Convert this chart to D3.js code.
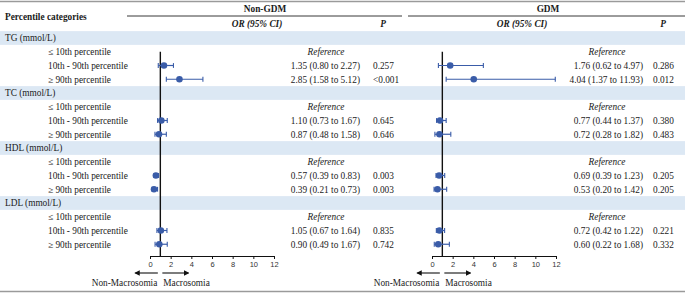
<!DOCTYPE html>
<html>
<head>
<meta charset="utf-8">
<script src="https://cdn.jsdelivr.net/npm/d3@7"></script>
<style>
  body { margin: 0; background: #fff; }
  svg text { font-family: "Liberation Serif", "Times New Roman", serif; fill: #1a1a1a; }
  .axis text { font-family: "Liberation Sans", Arial, sans-serif; font-size: 7.5px; fill: #333; }
</style>
</head>
<body>
<svg id="chart" width="685" height="293"></svg>
<script>
// ---- data ----
var groups = ["TG (mmol/L)", "TC (mmol/L)", "HDL (mmol/L)", "LDL (mmol/L)"];
var levels = ["\u2264 10th percentile", "10th - 90th percentile", "\u2265 90th percentile"];

// [OR, lower, upper] per group for 10th-90th and >=90th (<=10th is the reference)
var nonGdmOR = [
  [[1.35, 0.80, 2.27], [2.85, 1.58, 5.12]],
  [[1.10, 0.73, 1.67], [0.87, 0.48, 1.58]],
  [[0.57, 0.39, 0.83], [0.39, 0.21, 0.73]],
  [[1.05, 0.67, 1.64], [0.90, 0.49, 1.67]]
];
var nonGdmP = [["0.257", "<0.001"], ["0.645", "0.646"], ["0.003", "0.003"], ["0.835", "0.742"]];

var gdmOR = [
  [[1.76, 0.62, 4.97], [4.04, 1.37, 11.93]],
  [[0.77, 0.44, 1.37], [0.72, 0.28, 1.82]],
  [[0.69, 0.39, 1.23], [0.53, 0.20, 1.42]],
  [[0.72, 0.42, 1.22], [0.60, 0.22, 1.68]]
];
var gdmP = [["0.286", "0.012"], ["0.380", "0.483"], ["0.205", "0.205"], ["0.221", "0.332"]];

var xTicks = [0, 2, 4, 6, 8, 10, 12];

// ---- build rows ----
var rows = [];
groups.forEach(function(g, gi) {
  rows.push({type: "group", label: g});
  levels.forEach(function(l, li) {
    rows.push({
      type: "level", label: l,
      left: li === 0 ? null : nonGdmOR[gi][li - 1],
      leftP: li === 0 ? null : nonGdmP[gi][li - 1],
      right: li === 0 ? null : gdmOR[gi][li - 1],
      rightP: li === 0 ? null : gdmP[gi][li - 1]
    });
  });
});

var fmt = d3.format(".2f");
function orText(d) { return fmt(d[0]) + " (" + fmt(d[1]) + " to " + fmt(d[2]) + ")"; }

var svg = d3.select("#chart");
var W = 685;
var FS = "9.3px";
var blue = "#3a5ca8";

var yScale = d3.scaleLinear().domain([0, 1]).range([38, 51.75]);
var rowH = 13.75;

var panels = [
  {key: "left", p: "leftP", title: "Non-GDM", x: d3.scaleLinear().domain([0, 12]).range([150, 274]),
   line: [127, 402], titleX: 265, orHeadX: 257, pHeadX: 383, orCenter: 326, orEnd: 360, pX: 373},
  {key: "right", p: "rightP", title: "GDM", x: d3.scaleLinear().domain([0, 12]).range([432, 556]),
   line: [408, 685], titleX: 548, orHeadX: 522, pHeadX: 663, orCenter: 607, orEnd: 643, pX: 653}
];

// bands
svg.selectAll("rect.band")
  .data(rows.map(function(r, i) { return {r: r, i: i}; }).filter(function(d) { return d.r.type === "group"; }))
  .join("rect")
    .attr("class", "band")
    .attr("x", 0)
    .attr("y", function(d) { return yScale(d.i) - rowH / 2; })
    .attr("width", W)
    .attr("height", rowH)
    .style("fill", "#dce8f4");

// top / bottom rules
svg.append("line").attr("x1", 0).attr("x2", W).attr("y1", 1.5).attr("y2", 1.5)
  .style("stroke", "#9a9a9a").style("stroke-width", 1.5);
svg.append("line").attr("x1", 0).attr("x2", W).attr("y1", 291.5).attr("y2", 291.5)
  .style("stroke", "#9a9a9a").style("stroke-width", 1.5);

// header
svg.append("text").attr("x", 5).attr("y", 20).text("Percentile categories")
  .style("font-size", FS).style("font-weight", "bold");

panels.forEach(function(pn) {
  svg.append("text").attr("x", pn.titleX).attr("y", 12).attr("text-anchor", "middle")
    .text(pn.title).style("font-size", FS).style("font-weight", "bold");
  svg.append("line").attr("x1", pn.line[0]).attr("x2", pn.line[1]).attr("y1", 16).attr("y2", 16)
    .style("stroke", "#222").style("stroke-width", 0.9);
  svg.append("text").attr("x", pn.orHeadX).attr("y", 27).attr("text-anchor", "middle")
    .text("OR (95% CI)").style("font-size", FS).style("font-weight", "bold").style("font-style", "italic");
  svg.append("text").attr("x", pn.pHeadX).attr("y", 27).attr("text-anchor", "middle")
    .text("P").style("font-size", FS).style("font-weight", "bold").style("font-style", "italic");
});

// row labels
svg.selectAll("text.rowlab")
  .data(rows)
  .join("text")
    .attr("class", "rowlab")
    .attr("x", function(d) { return d.type === "group" ? 5 : 48; })
    .attr("y", function(d, i) { return yScale(i); })
    .attr("dy", "0.35em")
    .text(function(d) { return d.label; })
    .style("font-size", FS);

// panels
panels.forEach(function(pn) {
  var x = pn.x;
  var g = svg.append("g").attr("class", "panel_" + pn.key);

  // axis
  g.append("g")
    .attr("class", "axis")
    .attr("transform", "translate(0,256)")
    .call(d3.axisBottom(x).tickValues(xTicks).tickSize(3).tickSizeOuter(0).tickPadding(3))
    .call(function(a) {
      a.select(".domain").style("stroke", "#111").style("stroke-width", 1.2);
      a.selectAll(".tick line").style("stroke", "#111");
    });

  // reference line at OR = 1
  g.append("line")
    .attr("x1", x(1)).attr("x2", x(1))
    .attr("y1", yScale(1)).attr("y2", 256)
    .style("stroke", "#111").style("stroke-width", 1.4);

  var data = rows.map(function(r, i) { return {r: r, i: i}; })
    .filter(function(d) { return d.r.type === "level"; });

  var est = data.filter(function(d) { return d.r[pn.key]; });

  // CI lines
  g.selectAll("line.ci")
    .data(est)
    .join("line")
      .attr("class", "ci")
      .attr("x1", function(d) { return x(d.r[pn.key][1]); })
      .attr("x2", function(d) { return x(d.r[pn.key][2]); })
      .attr("y1", function(d) { return yScale(d.i); })
      .attr("y2", function(d) { return yScale(d.i); })
      .style("stroke", blue).style("stroke-width", 1.2);

  // caps
  [1, 2].forEach(function(k) {
    g.selectAll("line.cap" + k)
      .data(est)
      .join("line")
        .attr("class", "cap" + k)
        .attr("x1", function(d) { return x(d.r[pn.key][k]); })
        .attr("x2", function(d) { return x(d.r[pn.key][k]); })
        .attr("y1", function(d) { return yScale(d.i) - 2.4; })
        .attr("y2", function(d) { return yScale(d.i) + 2.4; })
        .style("stroke", blue).style("stroke-width", 1.1);
  });

  // points
  g.selectAll("circle.pt")
    .data(est)
    .join("circle")
      .attr("class", "pt")
      .attr("cx", function(d) { return x(d.r[pn.key][0]); })
      .attr("cy", function(d) { return yScale(d.i); })
      .attr("r", 3.3)
      .style("fill", blue);

  // OR text
  g.selectAll("text.or")
    .data(data)
    .join("text")
      .attr("class", "or")
      .attr("x", function(d) { return d.r[pn.key] ? pn.orEnd : pn.orCenter; })
      .attr("y", function(d) { return yScale(d.i); })
      .attr("dy", "0.35em")
      .attr("text-anchor", function(d) { return d.r[pn.key] ? "end" : "middle"; })
      .style("font-style", function(d) { return d.r[pn.key] ? "normal" : "italic"; })
      .style("font-size", FS)
      .text(function(d) { return d.r[pn.key] ? orText(d.r[pn.key]) : "Reference"; });

  // P text
  g.selectAll("text.pv")
    .data(est)
    .join("text")
      .attr("class", "pv")
      .attr("x", pn.pX)
      .attr("y", function(d) { return yScale(d.i); })
      .attr("dy", "0.35em")
      .style("font-size", FS)
      .text(function(d) { return d.r[pn.p]; });

  // direction arrows
  var ay = 273;
  var mk = "arrow_" + pn.key;
  var defs = svg.append("defs");
  defs.append("marker")
    .attr("id", mk)
    .attr("viewBox", "0 0 10 10")
    .attr("refX", 8).attr("refY", 5)
    .attr("markerWidth", 5).attr("markerHeight", 5)
    .attr("orient", "auto-start-reverse")
    .append("path").attr("d", "M0,0 L10,5 L0,10 z").style("fill", "#111");

  g.append("line")
    .attr("x1", x(1) - 2.5).attr("x2", x(1) - 25)
    .attr("y1", ay).attr("y2", ay)
    .style("stroke", "#111").style("stroke-width", 1.1)
    .attr("marker-end", "url(#" + mk + ")");
  g.append("line")
    .attr("x1", x(1) + 2).attr("x2", x(1) + 28)
    .attr("y1", ay).attr("y2", ay)
    .style("stroke", "#111").style("stroke-width", 1.1)
    .attr("marker-end", "url(#" + mk + ")");

  g.append("text").attr("x", x(1) - 3).attr("y", 286).attr("text-anchor", "end")
    .style("font-size", FS).text("Non-Macrosomia");
  g.append("text").attr("x", x(1) + 3).attr("y", 286)
    .style("font-size", FS).text("Macrosomia");
});
</script>
</body>
</html>
